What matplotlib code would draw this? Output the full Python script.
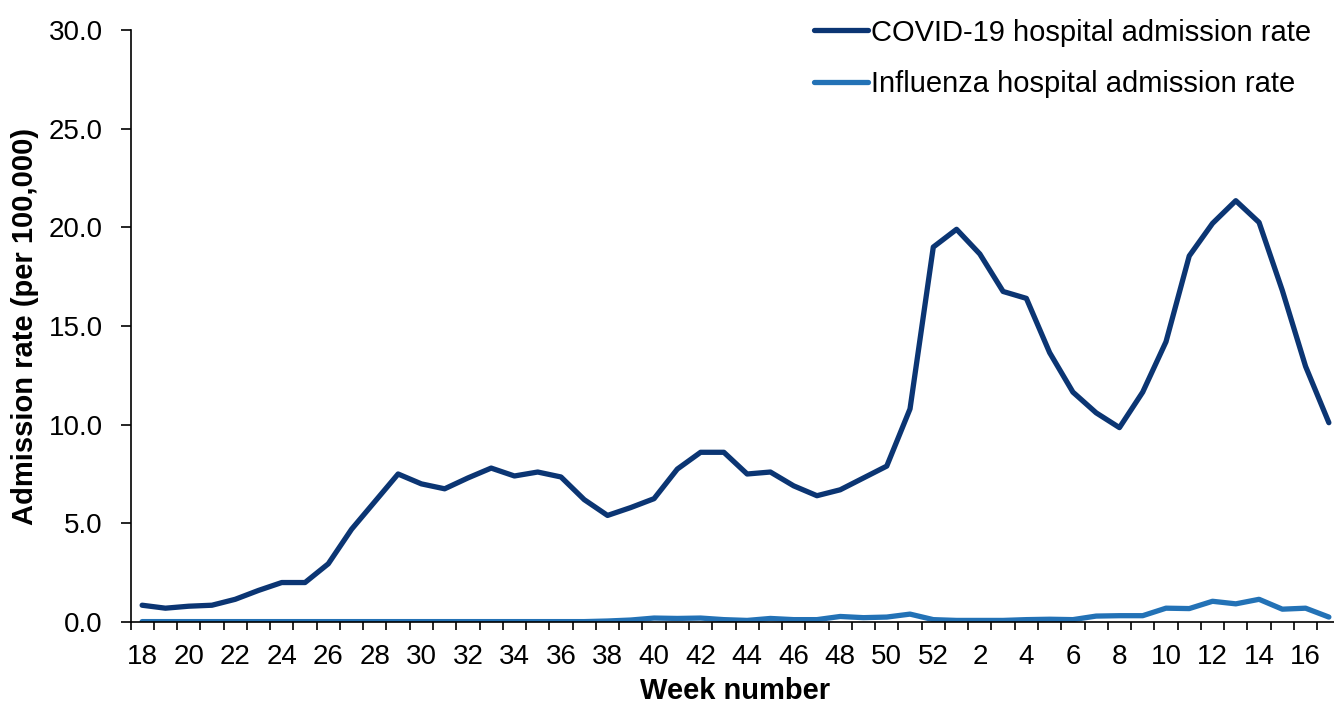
import matplotlib
matplotlib.use("Agg")
import matplotlib.pyplot as plt
import numpy as np

# Data (weekly admission rate per 100,000)
WEEKS = list(range(18, 53)) + list(range(1, 18))
COVID_RATE = [0.85, 0.7, 0.8, 0.85, 1.15, 1.6, 2.0, 2.0, 2.95, 4.7,
              6.1, 7.5, 7.0, 6.75, 7.3, 7.8, 7.4, 7.6, 7.35, 6.2,
              5.4, 5.8, 6.25, 7.75, 8.6, 8.6, 7.5, 7.6, 6.9, 6.4,
              6.7, 7.3, 7.9, 10.8, 19.0, 19.9, 18.65, 16.75, 16.4, 13.65,
              11.65, 10.6, 9.85, 11.65, 14.2, 18.55, 20.2, 21.35, 20.25, 16.8,
              12.95, 10.1]
FLU_RATE = [0.02, 0.02, 0.02, 0.02, 0.02, 0.02, 0.02, 0.02, 0.02, 0.02,
            0.02, 0.02, 0.02, 0.02, 0.02, 0.02, 0.02, 0.02, 0.02, 0.02,
            0.05, 0.1, 0.2, 0.18, 0.2, 0.12, 0.08, 0.18, 0.12, 0.12,
            0.28, 0.22, 0.25, 0.4, 0.12, 0.08, 0.08, 0.08, 0.12, 0.14,
            0.12, 0.3, 0.32, 0.32, 0.7, 0.68, 1.05, 0.92, 1.15, 0.65,
            0.7, 0.25]
Y_TICKS = [0, 5, 10, 15, 20, 25, 30]

COVID_COLOUR = "#0b3573"
FLU_COLOUR = "#2372b6"

plt.rcParams['font.family'] = ['Liberation Sans', 'DejaVu Sans']

W, H = 1334, 709
fig = plt.figure(figsize=(W / 100, H / 100), dpi=100)
ax = fig.add_axes([130.5 / W, 1 - 622 / H, 1210 / W, (622 - 30) / H])

x = np.arange(len(WEEKS))
ax.plot(x, COVID_RATE, color=COVID_COLOUR, lw=3.8, solid_capstyle='round',
        solid_joinstyle='round', label='COVID-19 hospital admission rate')
ax.plot(x, FLU_RATE, color=FLU_COLOUR, lw=3.8, solid_capstyle='round',
        solid_joinstyle='round', label='Influenza hospital admission rate')

ax.set_xlim(-0.5, len(WEEKS) - 0.5)
ax.set_ylim(0, 30)

# tick marks sit between categories, labels on every other week
ax.set_xticks(np.arange(-0.5, len(WEEKS) + 0.5, 1))
ax.set_xticklabels([])
ax.set_xticks(x[::2], minor=True)
ax.set_xticklabels([str(w) for w in WEEKS[::2]], minor=True)
ax.tick_params(axis='x', which='major', length=6, width=1.2, direction='out')
ax.tick_params(axis='x', which='minor', length=0, labelsize=20, pad=16)

ax.set_yticks(Y_TICKS)
ax.set_yticklabels([f"{v:.1f}" for v in Y_TICKS])
ax.tick_params(axis='y', length=7, width=1.2, direction='out', labelsize=20, pad=13)

for side in ['top', 'right']:
    ax.spines[side].set_visible(False)
for side in ['left', 'bottom']:
    ax.spines[side].set_linewidth(1.2)
    ax.spines[side].set_color('black')

ax.set_xlabel('Week number', fontsize=21, fontweight='bold', labelpad=5)
ax.set_ylabel('Admission rate (per 100,000)', fontsize=21, fontweight='bold', labelpad=7)

fig.legend(loc='upper left', bbox_to_anchor=(802 / W, 1 - 7 / H), frameon=False,
           fontsize=21, handlelength=1.85, handletextpad=0.1, labelspacing=0.8,
           borderaxespad=0)

fig.savefig('out.png', dpi=100)
